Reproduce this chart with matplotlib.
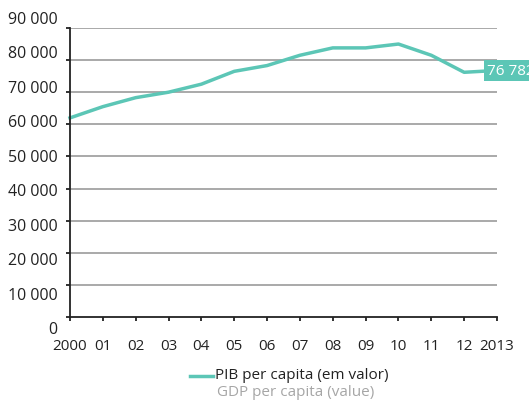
import matplotlib.pyplot as plt
import matplotlib.transforms as mtransforms
from matplotlib.lines import Line2D

plt.rcParams['font.family'] = ['Open Sans', 'DejaVu Sans']

# data
years = list(range(2000, 2014))
pib = [62000, 65500, 68300, 70000, 72500, 76500, 78300,
       81500, 83800, 83800, 85000, 81500, 76200, 76782]
y_ticks = list(range(0, 90001, 10000))
x_labels = ['2000', '01', '02', '03', '04', '05', '06', '07',
            '08', '09', '10', '11', '12', '2013']

teal = '#5cc6b6'
grid_grey = '#a9a9a9'

fig = plt.figure(figsize=(5.29, 4.02), dpi=100)
ax = fig.add_axes([0.1323, 0.209, 0.8072, 0.7189])

ax.plot(years, pib, color=teal, lw=2.5, solid_joinstyle='round', clip_on=False)

ax.set_xlim(2000, 2013)
ax.set_ylim(0, 90000)
ax.set_yticks(y_ticks)
ax.set_yticklabels([f'{v:,}'.replace(',', ' ') for v in y_ticks])
ax.set_xticks(years)
ax.set_xticklabels(x_labels)

for v in y_ticks[1:]:
    ax.axhline(v, color=grid_grey, lw=1.4, zorder=0)

for s in ['top', 'right']:
    ax.spines[s].set_visible(False)
for s in ['left', 'bottom']:
    ax.spines[s].set_color('#222222')
    ax.spines[s].set_linewidth(1.3)

ax.tick_params(axis='y', length=3, width=1.3, color='#222222', labelsize=11.5, pad=6, labelcolor='#222222')
ax.tick_params(axis='x', length=3, width=1.3, color='#222222', labelsize=11, pad=12, labelcolor='#222222')

# y labels sit slightly off their gridlines in the original
for v, lab in zip(y_ticks, ax.get_yticklabels()):
    dy = -(10 - 21 * v / 90000) / 100
    lab.set_transform(lab.get_transform() + mtransforms.ScaledTranslation(0, dy, fig.dpi_scale_trans))

# last value label
ax.annotate('76 782', xy=(years[-1], pib[-1]), xytext=(-7, 0), textcoords='offset points',
            ha='left', va='center', color='white', fontsize=11, annotation_clip=False,
            bbox=dict(boxstyle='square,pad=0.2', fc=teal, ec='none'))

# legend
fig.lines.append(Line2D([190 / 529, 213 / 529], [1 - 377 / 402] * 2,
                        color=teal, lw=2.5, transform=fig.transFigure))
fig.text(215 / 529, 1 - 376 / 402, 'PIB per capita (em valor)', fontsize=11,
         color='#222222', va='center', ha='left')
fig.text(217 / 529, 1 - 393 / 402, 'GDP per capita (value)', fontsize=11,
         color='#a6a6a6', va='center', ha='left')

fig.savefig('out.png', dpi=100)
